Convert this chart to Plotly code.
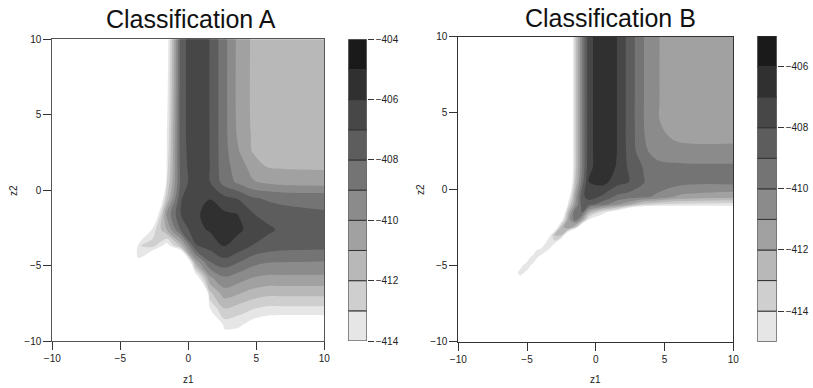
import plotly.graph_objects as go

# ---------------- Panel A : grid ----------------
a_z1 = [-10, -4.737, -3.684, -2.632, -1.579, -0.526, 0.526, 1.579, 2.632,
        3.684, 4.737, 5.789, 6.842, 10]
a_z2_top_down = [10, 4.737, 3.684, 2.632, 1.579, 0.526, -0.526, -1.579,
                 -2.632, -3.684, -4.737, -5.789, -6.842, -7.895, -8.947, -10]
a_value_rows = [
    [-450, -450, -450, -450, -414.8, -407.3, -406.4, -407.02, -408.65, -410.3, -411.16, -411.45, -411.5, -411.5],
    [-450, -450, -450, -450, -414.2, -407.3, -406.4, -407.02, -408.65, -410.3, -411.16, -411.45, -411.5, -411.5],
    [-450, -450, -450, -450, -414.0, -407.3, -406.4, -407.01, -408.65, -410.2, -411.12, -411.38, -411.45, -411.45],
    [-450, -450, -450, -450, -413.8, -407.35, -406.4, -407.01, -408.63, -409.95, -411.1, -411.25, -411.3, -411.3],
    [-450, -450, -450, -450, -413.5, -407.45, -406.38, -407.0, -408.6, -409.5, -410.4, -411.05, -411.12, -411.15],
    [-450, -450, -450, -440, -413.0, -407.6, -406.35, -406.95, -408.4, -409.2, -409.9, -410.15, -410.35, -410.5],
    [-450, -450, -450, -420, -412.0, -407.05, -406.3, -406.03, -406.75, -407.1, -407.9, -408.15, -408.25, -408.3],
    [-450, -450, -450, -417.1, -409.8, -406.9, -406.15, -405.7, -405.8, -406.02, -406.95, -407.3, -407.65, -407.9],
    [-450, -450, -431, -413.56, -411.0, -407.8, -406.3, -405.9, -405.4, -405.85, -406.3, -406.8, -407.15, -407.55],
    [-450, -450, -413.1, -412.6, -414.6, -411.5, -407.1, -406.6, -405.95, -406.4, -407.05, -407.4, -407.6, -407.7],
    [-450, -450, -414.27, -417.3, -430, -420, -410.5, -408.0, -407.3, -407.9, -408.6, -408.9, -408.95, -409.0],
    [-450, -450, -450, -450, -450, -440, -415.2, -410.2, -409.1, -409.5, -410.0, -410.2, -410.2, -410.2],
    [-450, -450, -450, -450, -450, -450, -425, -412.3, -410.5, -410.9, -411.4, -411.7, -411.7, -411.7],
    [-450, -450, -450, -450, -450, -450, -440, -414.1, -412.1, -412.5, -413.0, -413.3, -413.3, -413.3],
    [-450, -450, -450, -450, -450, -450, -450, -420, -413.6, -413.75, -414.6, -415.0, -415.2, -415.2],
    [-450, -450, -450, -450, -450, -450, -450, -440, -415.2, -415.2, -416.5, -417.0, -417.0, -417.0],
]

# ---------------- Panel B : grid ----------------
b_z1 = [-10, -6, -5.5, -5, -4.5, -4, -3.5, -3, -2.5, -2, -1.5, -1, -0.5,
        0.5, 1.5, 2.5, 3.5, 4.5, 6, 10]
b_z2_top_down = [10, 6, 4.5, 3.5, 2.5, 1.5, 0.5, -0.5, -1, -1.5, -2, -2.5,
                 -3, -3.5, -4, -4.5, -5, -5.5, -6, -10]
b_value_rows = [
    [-450, -450, -450, -450, -450, -450, -450, -450, -450, -418.5, -413.5, -410.0, -407.3, -406.3, -406.95, -408.5, -410.0, -410.95, -411.5, -411.5],
    [-450, -450, -450, -450, -450, -450, -450, -450, -450, -418.5, -413.5, -410.0, -407.3, -406.3, -406.95, -408.5, -410.0, -410.95, -411.5, -411.5],
    [-450, -450, -450, -450, -450, -450, -450, -450, -450, -418.5, -413.5, -410.0, -407.3, -406.3, -406.95, -408.5, -410.0, -410.95, -411.45, -411.45],
    [-450, -450, -450, -450, -450, -450, -450, -450, -450, -418.5, -413.5, -410.0, -407.3, -406.3, -406.95, -408.5, -409.95, -410.8, -411.2, -411.25],
    [-450, -450, -450, -450, -450, -450, -450, -450, -450, -418.5, -413.5, -410.0, -407.3, -406.3, -406.95, -408.45, -409.8, -410.45, -410.7, -410.75],
    [-450, -450, -450, -450, -450, -450, -450, -450, -450, -418.5, -413.5, -410.0, -407.3, -406.3, -407.05, -408.3, -409.1, -409.7, -409.8, -409.85],
    [-450, -450, -450, -450, -450, -450, -450, -450, -440, -418.0, -413.0, -409.5, -406.95, -406.6, -407.5, -408.05, -408.95, -409.45, -409.55, -409.6],
    [-450, -450, -450, -450, -450, -450, -450, -450, -440, -416.0, -411.5, -408.33, -407.5, -408.2, -409.2, -409.5, -409.8, -410.2, -411.2, -411.7],
    [-450, -450, -450, -450, -450, -450, -450, -450, -425, -414.3, -411.0, -408.6, -408.7, -409.6, -410.8, -412.0, -413.5, -414.0, -414.3, -414.5],
    [-450, -450, -450, -450, -450, -450, -450, -450, -418, -412.5, -409.2, -409.0, -412.0, -414.4, -416.0, -419.5, -420, -420, -418.5, -417.3],
    [-450, -450, -450, -450, -450, -450, -450, -430, -415.8, -411.5, -409.5, -411.5, -415.2, -416.4, -425, -430, -440, -440, -440, -440],
    [-450, -450, -450, -450, -450, -450, -430, -417, -412.5, -411.0, -413.0, -418, -430, -440, -450, -450, -450, -450, -450, -450],
    [-450, -450, -450, -450, -450, -430, -416.5, -413.0, -412.8, -418, -425, -440, -450, -450, -450, -450, -450, -450, -450, -450],
    [-450, -450, -450, -450, -430, -418, -414.0, -414.4, -418, -425, -440, -450, -450, -450, -450, -450, -450, -450, -450, -450],
    [-450, -450, -450, -430, -415.4, -414.3, -414.9, -420, -430, -440, -450, -450, -450, -450, -450, -450, -450, -450, -450, -450],
    [-450, -450, -430, -415.25, -414.6, -415.4, -425, -440, -450, -450, -450, -450, -450, -450, -450, -450, -450, -450, -450, -450],
    [-450, -430, -415.15, -414.75, -415.25, -425, -440, -450, -450, -450, -450, -450, -450, -450, -450, -450, -450, -450, -450, -450],
    [-430, -415.3, -414.85, -415.15, -425, -440, -450, -450, -450, -450, -450, -450, -450, -450, -450, -450, -450, -450, -450, -450],
    [-430, -415.1, -415.3, -425, -440, -450, -450, -450, -450, -450, -450, -450, -450, -450, -450, -450, -450, -450, -450, -450],
    [-450, -450, -450, -450, -450, -450, -450, -450, -450, -450, -450, -450, -450, -450, -450, -450, -450, -450, -450, -450],
]

# ---------------- levels, colours, ticks ----------------
a_levels = [-414, -413, -412, -411, -410, -409, -408, -407, -406, -405, -404]
b_levels = [-415, -414, -413, -412, -411, -410, -409, -408, -407, -406, -405]
band_colors = ['#e6e6e6', '#cfcfcf', '#b8b8b8', '#a1a1a1', '#8b8b8b',
               '#747474', '#5d5d5d', '#474747', '#303030', '#1a1a1a']
a_bar_ticks = [-414, -412, -410, -408, -406, -404]
b_bar_ticks = [-414, -412, -410, -408, -406]
axis_ticks = [-10, -5, 0, 5, 10]

n_slots = len(band_colors) + 1
colorscale = [[0.0, '#ffffff']]
for i, c in enumerate(band_colors):
    colorscale.append([(i + 1) / n_slots, c])
colorscale.append([1.0, band_colors[-1]])

W, H = 813, 388


def fx(px):
    return px / W


def fy(py):
    return 1 - py / H


fig = go.Figure()

fig.add_trace(go.Contour(
    x=a_z1, y=a_z2_top_down[::-1], z=a_value_rows[::-1],
    autocontour=False,
    contours=dict(start=a_levels[0], end=a_levels[-1], size=1,
                  coloring='fill', showlines=False),
    line=dict(width=0), colorscale=colorscale, showscale=False,
    hoverinfo='skip', xaxis='x', yaxis='y'))

fig.add_trace(go.Contour(
    x=b_z1, y=b_z2_top_down[::-1], z=b_value_rows[::-1],
    autocontour=False,
    contours=dict(start=b_levels[0], end=b_levels[-1], size=1,
                  coloring='fill', showlines=False),
    line=dict(width=0), colorscale=colorscale, showscale=False,
    hoverinfo='skip', xaxis='x2', yaxis='y2'))

# colour keys drawn as stacked bars on their own axes
for levels, xa, ya in [(a_levels, 'x3', 'y3'), (b_levels, 'x4', 'y4')]:
    lows = levels[:-1]
    heights = [hi - lo for lo, hi in zip(levels[:-1], levels[1:])]
    fig.add_trace(go.Bar(
        x=[0 for _ in lows], y=heights, base=lows, width=1,
        marker=dict(color=band_colors, line=dict(color='#333333', width=1)),
        showlegend=False, hoverinfo='skip', xaxis=xa, yaxis=ya))

tick_font = dict(family='Liberation Sans, Arial, sans-serif', size=10, color='#222222')


def main_axis(domain, anchor, linecolor):
    return dict(domain=domain, anchor=anchor, range=[-10, 10],
                tickvals=axis_ticks, ticks='outside', ticklen=8,
                tickcolor='#333333', tickwidth=1,
                showline=True, linecolor=linecolor, linewidth=1, mirror=True,
                showgrid=False, zeroline=False, tickfont=tick_font,
                fixedrange=True, automargin=False)


a_xdom = [fx(52.3), fx(324.3)]
a_ydom = [fy(341.0), fy(39.3)]
b_xdom = [fx(458.3), fx(733.3)]
b_ydom = [fy(341.7), fy(36.7)]

fig.update_layout(
    template='none',
    width=W, height=H, autosize=False,
    margin=dict(l=0, r=0, t=0, b=0, pad=0),
    paper_bgcolor='white', plot_bgcolor='white',
    showlegend=False, barmode='overlay',
    xaxis=main_axis(a_xdom, 'y', '#555555'),
    yaxis=main_axis(a_ydom, 'x', '#555555'),
    xaxis2=main_axis(b_xdom, 'y2', '#333333'),
    yaxis2=main_axis(b_ydom, 'x2', '#333333'),
    xaxis3=dict(domain=[fx(348.3), fx(366.7)], anchor='y3', range=[-0.5, 0.5],
                visible=False, fixedrange=True, automargin=False),
    yaxis3=dict(domain=a_ydom, anchor='x3', side='right',
                range=[a_levels[0], a_levels[-1]], tickvals=a_bar_ticks,
                ticks='outside', ticklen=6, tickcolor='#333333',
                showline=False, showgrid=False, zeroline=False,
                tickfont=tick_font, fixedrange=True, automargin=False),
    xaxis4=dict(domain=[fx(757.3), fx(776.7)], anchor='y4', range=[-0.5, 0.5],
                visible=False, fixedrange=True, automargin=False),
    yaxis4=dict(domain=[fy(341.7), fy(36.0)], anchor='x4', side='right',
                range=[b_levels[0], b_levels[-1]], tickvals=b_bar_ticks,
                ticks='outside', ticklen=6, tickcolor='#333333',
                showline=False, showgrid=False, zeroline=False,
                tickfont=tick_font, fixedrange=True, automargin=False),
)

title_font = dict(family='Liberation Sans, Arial, sans-serif', size=25, color='#111111')
label_font = dict(family='Liberation Sans, Arial, sans-serif', size=10, color='#222222')

annotations = [
    dict(text='Classification A', x=fx(191), y=fy(19), font=title_font),
    dict(text='Classification B', x=fx(610.5), y=fy(18), font=title_font),
    dict(text='z1', x=fx(188.3), y=fy(379), font=label_font),
    dict(text='z1', x=fx(595), y=fy(379), font=label_font),
    dict(text='z2', x=fx(13), y=fy(190), font=label_font, textangle=-90),
    dict(text='z2', x=fx(420), y=fy(190), font=label_font, textangle=-90),
]
for a in annotations:
    a.update(xref='paper', yref='paper', showarrow=False,
             xanchor='center', yanchor='middle')
fig.update_layout(annotations=annotations)

# the page's default 8px body margin would shift the 813x388 figure; remove it
page_fix = ("document.documentElement.style.margin='0';"
            "document.body.style.margin='0';"
            "document.body.style.overflow='hidden';")
fig.write_html('out.html', post_script=page_fix,
               config={'displayModeBar': False, 'displaylogo': False})
